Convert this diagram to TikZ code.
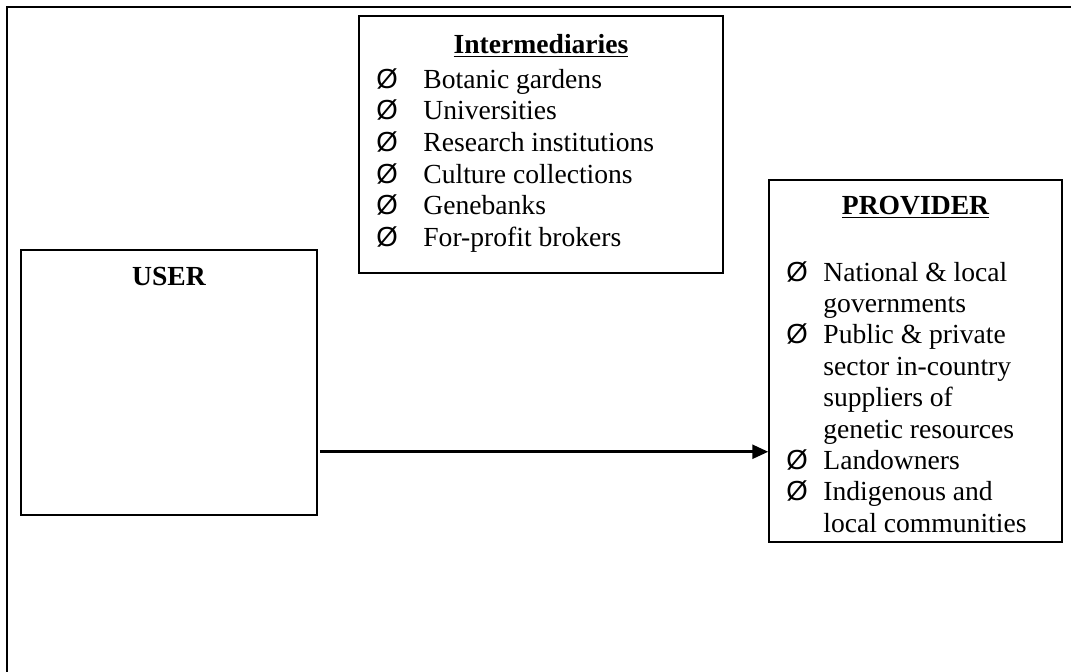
\documentclass[tikz,border=0pt]{standalone}
\usepackage{fontspec}
\setmainfont{Liberation Serif}
\newfontfamily\symfont{Liberation Sans}
\usetikzlibrary{arrows.meta}

\begin{document}
\begin{tikzpicture}[x = 0.5pt, y = -0.5pt,
    every node/.style = {font = \fontsize{13.8}{15.75}\selectfont},
    box/.style = {draw, line width = 0.75pt, inner sep = 0pt},
    heading/.style = {anchor = base, font = \fontsize{13.8}{15.75}\selectfont\bfseries},
    entry/.style = {anchor = base west, inner sep = 0pt},
    arw/.style = {line width = 1.3pt, -{Triangle[length = 8pt, width = 7pt]}}]
  \def\itm#1#2#3{\makebox[#1][l]{\ifnum#2=1 \symfont Ø\fi}#3}

  \useasboundingbox (0, 0) rectangle (1071, 671);
  \clip (0, 0) rectangle (1071, 671);
  \draw[line width = 0.75pt] (7, 7) rectangle (1100, 700);

  \node[box, minimum width = 182pt, minimum height = 128.5pt] (inter) at (541, 144.5) {};
  \node[box, minimum width = 148pt, minimum height = 132.5pt] (user) at (169, 382.5) {};
  \node[box, minimum width = 146.5pt, minimum height = 181pt] (prov) at (915.5, 361) {};

  \node[heading] (interhead) at (541, 53) {\underline{Intermediaries}};
  \node[heading] (userhead) at (169, 285) {USER};
  \node[heading] (provhead) at (915.5, 214) {\underline{PROVIDER}};

  % lists
  \foreach \txt [count = \i] in {Botanic gardens, Universities, Research institutions,
      Culture collections, Genebanks, For-profit brokers}
    \node[entry] (inter\i) at (376, 88 + 31.7*\i - 31.7) {\itm{23.5pt}{1}{\txt}};

  \foreach \b/\txt [count = \i] in {1/National \& local, 0/governments, 1/Public \& private,
      0/sector in-country, 0/suppliers of, 0/genetic resources, 1/Landowners,
      1/Indigenous and, 0/local communities}
    \node[entry] (prov\i) at (786, 281 + 31.4*\i - 31.4) {\itm{18.5pt}{\b}{\txt}};

  \draw[arw] ([xshift = 1pt, yshift = 32pt]user.south east) -- ([yshift = 32pt]user.south east -| prov.west);
\end{tikzpicture}
\end{document}
